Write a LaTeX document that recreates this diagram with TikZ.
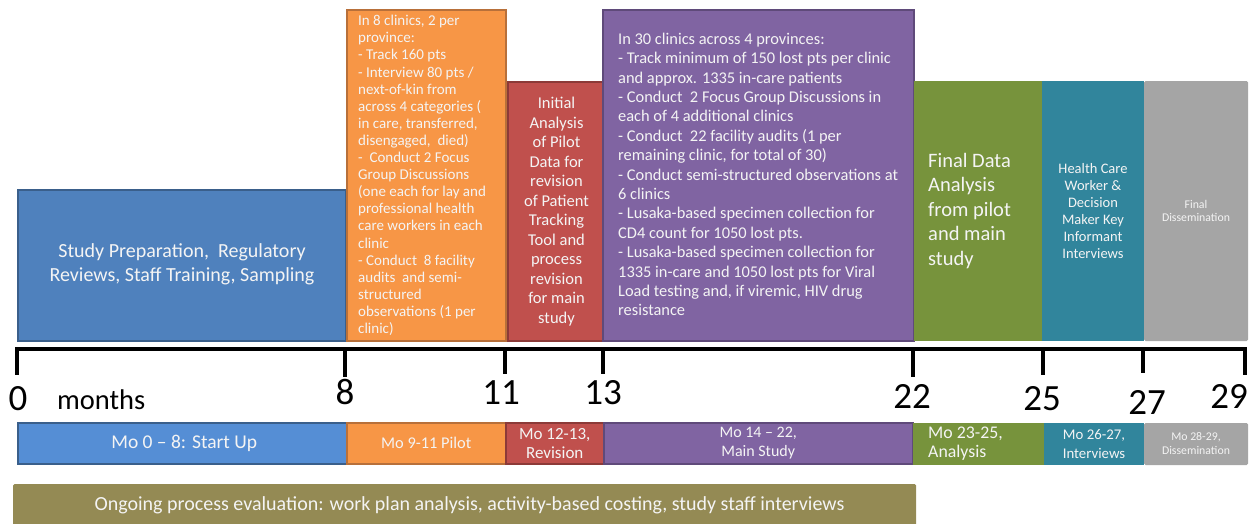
\documentclass[tikz,border=0pt]{standalone}
\usepackage{fontspec}
\setmainfont{Carlito}
\definecolor{cBlue}{HTML}{4F81BD}
\definecolor{cBlueD}{HTML}{3A5F8B}
\definecolor{cBlueL}{HTML}{558ED5}
\definecolor{cOrange}{HTML}{F79646}
\definecolor{cOrangeD}{HTML}{B8703A}
\definecolor{cRed}{HTML}{C0504D}
\definecolor{cRedD}{HTML}{8C3A38}
\definecolor{cPurple}{HTML}{8064A2}
\definecolor{cPurpleD}{HTML}{5F4A7A}
\definecolor{cGreen}{HTML}{77933C}
\definecolor{cTeal}{HTML}{31859C}
\definecolor{cGray}{HTML}{A5A5A5}
\definecolor{cOlive}{HTML}{948A54}
\definecolor{cText}{HTML}{F4F4F4}
\tikzset{
  bx/.style={anchor=north west, inner sep=0pt, line width=2pt},
  txt/.style={text=cText, inner sep=0pt},
  tl/.style={line width=3.5pt, line cap=rect},
  num/.style={anchor=base, inner sep=0pt, font=\fontsize{37}{37}\selectfont},
  fs/.style args={#1/#2}{font=\fontsize{#1}{#2}\selectfont}
}
\begin{document}
\begin{tikzpicture}[x=1pt,y=-1pt]
\useasboundingbox (0,0) rectangle (1251,523);
% top boxes
\node[bx, fill=cBlue, draw=cBlueD, minimum width=328pt, minimum height=151pt] (blue) at (17,189) {};
\node[bx, fill=cOrange, draw=cOrangeD, minimum width=159pt, minimum height=331pt] (orange) at (346,9) {};
\node[bx, fill=cRed, draw=cRedD, minimum width=97pt, minimum height=259pt] (red) at (507,81) {};
\node[bx, fill=cPurple, draw=cPurpleD, minimum width=311pt, minimum height=331pt] (purple) at (602,9) {};
\node[bx, fill=cGreen, minimum width=129pt, minimum height=260pt] (green) at (913,80) {};
\node[bx, fill=cTeal, minimum width=102pt, minimum height=260pt] (teal) at (1041,80) {};
\node[bx, fill=cGray, rounded corners=1.5pt, minimum width=104pt, minimum height=260pt] (gray) at (1143,80) {};
% texts
\node[txt, fs=20/24.5, align=center] (blueT) at ([yshift=1pt]blue.center) {Study Preparation,~ Regulatory\\Reviews, Staff Training, Sampling};
\node[txt, fs=15/17.1, align=left, anchor=west] (orangeT) at ([xshift=12pt]orange.west) {In 8 clinics, 2 per\\province:\\- Track 160 pts\\- Interview 80 pts /\\next-of-kin from\\across 4 categories (\\in care, transferred,\\disengaged,~ died)\\-~ Conduct 2 Focus\\Group Discussions\\(one each for lay and\\professional health\\care workers in each\\clinic\\- Conduct~ 8 facility\\audits~ and semi-\\structured\\observations (1 per\\clinic)};
\node[txt, fs=16.5/19.5, align=center] (redT) at (red.center) {Initial\\Analysis\\of Pilot\\Data for\\revision\\of Patient\\Tracking\\Tool and\\process\\revision\\for main\\study};
\node[txt, fs=16.4/19.4, align=left, anchor=west] (purpleT) at ([xshift=16pt,yshift=1pt]purple.west) {In 30 clinics across 4 provinces:\\- Track minimum of 150 lost pts per clinic\\and approx. 1335 in-care patients\\- Conduct~ 2 Focus Group Discussions in\\each of 4 additional clinics\\- Conduct~ 22 facility audits (1 per\\remaining clinic, for total of 30)\\- Conduct semi-structured observations at\\6 clinics\\- Lusaka-based specimen collection for\\CD4 count for 1050 lost pts.\\- Lusaka-based specimen collection for\\1335 in-care and 1050 lost pts for Viral\\Load testing and, if viremic, HIV drug\\resistance};
\node[txt, fs=20.5/24.5, align=left, anchor=west] (greenT) at ([xshift=15pt]green.west) {Final Data\\Analysis\\from pilot\\and main\\study};
\node[txt, fs=14.5/17, align=center] (tealT) at (teal.center) {Health Care\\Worker \&\\Decision\\Maker Key\\Informant\\Interviews};
\node[txt, fs=11.8/13.5, align=center] (grayT) at (gray.center) {Final\\Dissemination};
% timeline
\draw[tl] (17,373) -- (17,349) -- (1245,349) -- (1245,373);
\foreach \x/\y in {345/375,505/372,603/372,913/375,1043/373,1143/371}
  \draw[tl] (\x,349) -- (\x,\y);
\node[num] (n0) at (18,410) {0};
\node[anchor=base west, inner sep=0pt, fs=28.5/28] (months) at (57,409) {months};
\node[num] (n8) at (345,404) {8};
\node[num] (n11) at (501,404) {11};
\node[num] (n13) at (603,404) {13};
\node[num] (n22) at (912,408) {22};
\node[num] (n25) at (1042,410) {25};
\node[num] (n27) at (1147,414) {27};
\node[num] (n29) at (1229,408) {29};
% bottom bars
\node[bx, fill=cBlueL, draw=cBlueD, line width=1.5pt, minimum width=329pt, minimum height=41pt] (b1) at (17,422) {};
\node[bx, fill=cOrange, draw=cOrangeD, line width=1.5pt, minimum width=159pt, minimum height=41pt] (b2) at (346,422) {};
\node[bx, fill=cRed, draw=cRedD, line width=1.5pt, minimum width=98pt, minimum height=41pt] (b3) at (505,422) {};
\node[bx, fill=cPurple, draw=cPurpleD, line width=1.5pt, minimum width=309pt, minimum height=41pt] (b4) at (603,422) {};
\node[bx, fill=cGreen, minimum width=131pt, minimum height=42pt] (b5) at (912,422) {};
\node[bx, fill=cTeal, minimum width=100pt, minimum height=42pt] (b6) at (1043,422) {};
\node[bx, fill=cGray, rounded corners=1.5pt, minimum width=104pt, minimum height=42pt] (b7) at (1143,422) {};
\node[txt, fs=19.5/19] (b1T) at ([xshift=2pt]b1.center) {Mo 0 -- 8: Start Up};
\node[txt, fs=16.4/19] (b2T) at (b2.center) {Mo 9-11 Pilot};
\node[txt, fs=17/19, align=center] (b3T) at (b3.center) {Mo 12-13,\\Revision};
\node[txt, fs=16/19, align=center] (b4T) at (b4.center) {Mo 14 -- 22,\\Main Study};
\node[txt, fs=17.8/19, align=left, anchor=west] (b5T) at ([xshift=16pt]b5.west) {Mo 23-25,\\Analysis};
\node[txt, fs=14.8/19, align=center] (b6T) at (b6.center) {Mo 26-27,\\Interviews};
\node[txt, fs=11.8/14, align=center] (b7T) at (b7.center) {Mo 28-29,\\Dissemination};
% ongoing evaluation bar
\node[bx, fill=cOlive, rounded corners=1.5pt, minimum width=903pt, minimum height=42pt] (olive) at (12,483) {};
\node[txt, fs=20/20] (oliveT) at ([xshift=5pt]olive.center) {Ongoing process evaluation: work plan analysis, activity-based costing, study staff interviews};
\end{tikzpicture}
\end{document}
